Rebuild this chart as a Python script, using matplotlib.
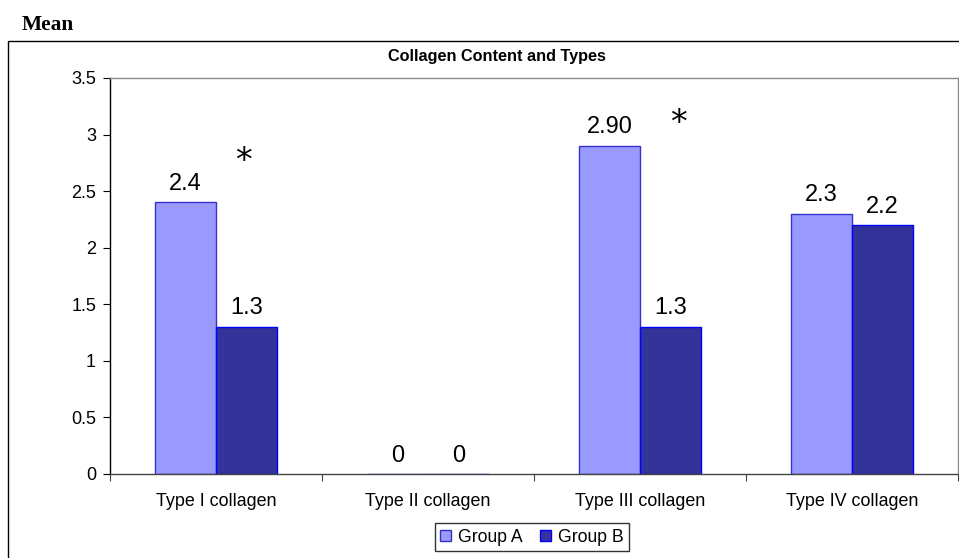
import matplotlib
matplotlib.use("Agg")
import matplotlib.pyplot as plt
from matplotlib.patches import Rectangle
import numpy as np

categories = ["Type I collagen", "Type II collagen", "Type III collagen", "Type IV collagen"]
group_a = [2.4, 0, 2.9, 2.3]
group_b = [1.3, 0, 1.3, 2.2]
labels_a = ["2.4", "0", "2.90", "2.3"]
labels_b = ["1.3", "0", "1.3", "2.2"]
series_names = ["Group A", "Group B"]
yticks = [0, 0.5, 1, 1.5, 2, 2.5, 3, 3.5]
ytick_labels = ["0", "0.5", "1", "1.5", "2", "2.5", "3", "3.5"]
star_cats = [0, 2]
star_dx = [0.13, 0.18]
star_y = [2.76, 3.10]

W, H = 959, 558
fig = plt.figure(figsize=(W / 100, H / 100), dpi=100)
plt.rcParams['font.family'] = ['Liberation Sans', 'DejaVu Sans']

# outer chart frame
fig.add_artist(Rectangle((8 / W, -0.1), 1.2, 1 - 41 / H + 0.1, transform=fig.transFigure,
                         fill=False, edgecolor='black', linewidth=1.0))
fig.text(22 / W, 1 - 30 / H, "Mean", family='Liberation Serif', fontweight='bold',
         fontsize=15.4, va='baseline', ha='left')
fig.text(497 / W, 1 - 56 / H, "Collagen Content and Types", fontweight='bold',
         fontsize=11.7, va='center', ha='center')

ax = fig.add_axes([110 / W, 1 - 474 / H, (958 - 110) / W, (474 - 78) / H])
x = np.arange(len(categories))
bw = 0.288
ax.bar(x - bw / 2, group_a, bw, color='#9999FF', edgecolor='#3333CC', linewidth=1.0,
       label=series_names[0])
ax.bar(x + bw / 2, group_b, bw, color='#333399', edgecolor='#0000FF', linewidth=1.0,
       label=series_names[1])

for i in range(len(categories)):
    ax.annotate(labels_a[i], (x[i] - bw / 2, group_a[i]), xytext=(0, 9), textcoords='offset points',
                ha='center', va='baseline', fontsize=17)
    ax.annotate(labels_b[i], (x[i] + bw / 2, group_b[i]), xytext=(0, 9), textcoords='offset points',
                ha='center', va='baseline', fontsize=17)

for c, dx, yv in zip(star_cats, star_dx, star_y):
    ax.text(x[c] + dx, yv, "*", ha='center', va='center', fontsize=24, family='DejaVu Sans')

ax.set_xlim(-0.5, len(categories) - 0.5)
ax.set_ylim(0, 3.5)
ax.set_yticks(yticks)
ax.set_yticklabels(ytick_labels, fontsize=13)
ax.set_xticks(np.arange(len(categories) + 1) - 0.5, minor=False)
ax.set_xticklabels([])
ax.set_xticks(x, minor=True)
ax.set_xticklabels(categories, minor=True, fontsize=12.9)
ax.tick_params(axis='x', which='minor', length=0, pad=14)
ax.tick_params(axis='x', which='major', length=5, direction='out', color='#444444')
ax.tick_params(axis='y', length=5, direction='out', pad=5)

ax.spines['top'].set_color('#888888')
ax.spines['right'].set_color('#888888')
ax.spines['bottom'].set_color('#444444')
ax.spines['left'].set_color('black')
for s in ax.spines.values():
    s.set_linewidth(1.0)

leg = ax.legend(loc='center', bbox_to_anchor=(532 / W, 1 - 537 / H), bbox_transform=fig.transFigure,
                ncol=2, fontsize=12.7, frameon=True, fancybox=False, edgecolor='black',
                handlelength=0.6, handleheight=0.6, handletextpad=0.4, columnspacing=1.0,
                borderpad=0.3, borderaxespad=0)
leg.get_frame().set_linewidth(1.0)

fig.savefig("out.png", dpi=100)
